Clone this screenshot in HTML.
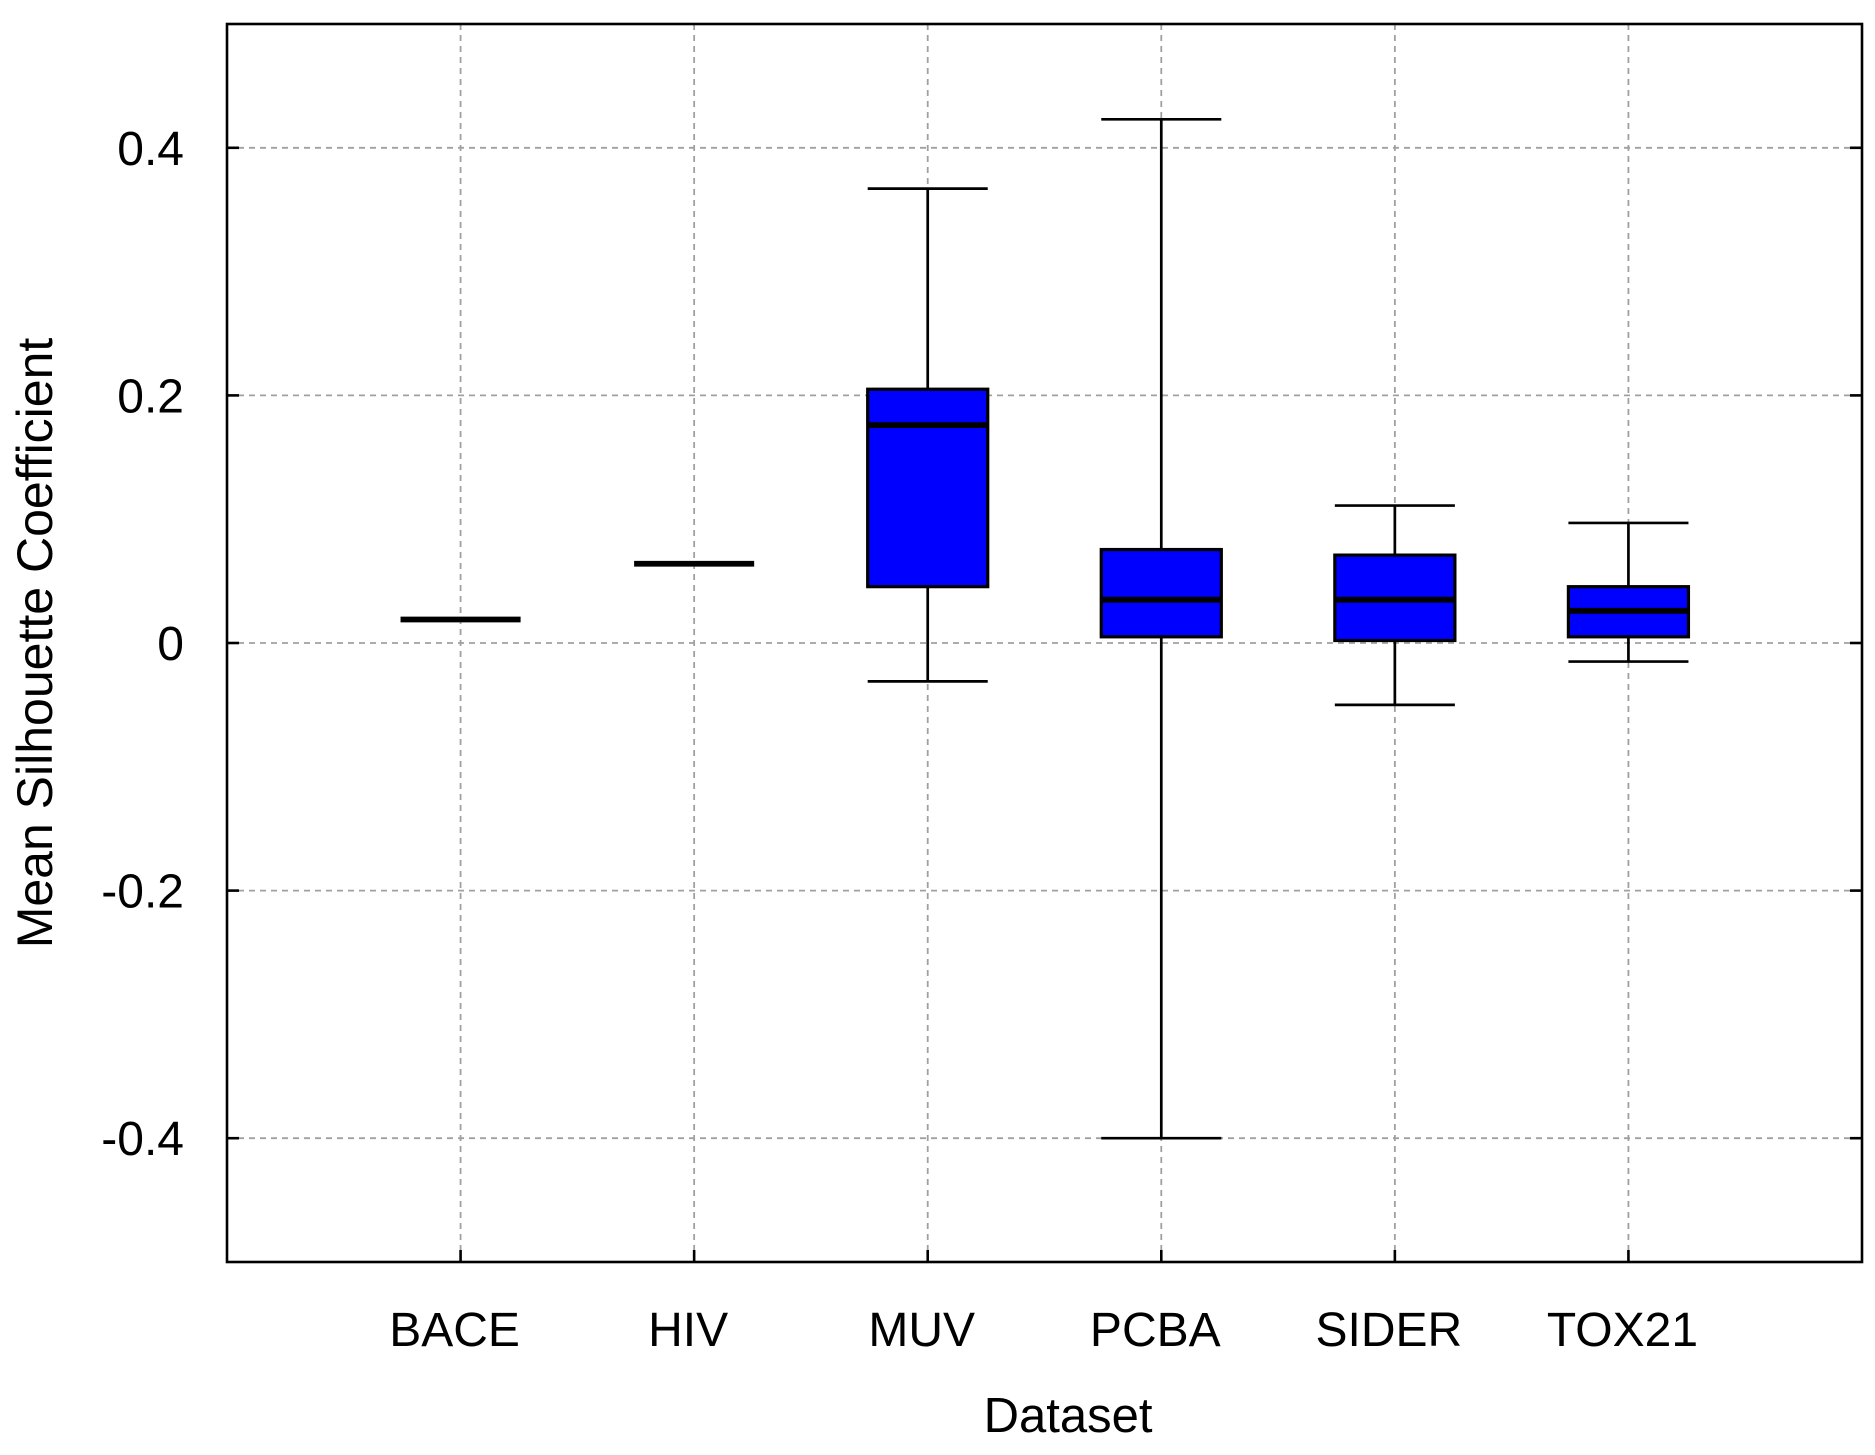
<!DOCTYPE html>
<html><head><meta charset="utf-8"><style>
html,body{margin:0;padding:0;background:#fff;}
svg{display:block;font-family:"Liberation Sans",sans-serif;}
</style></head><body>
<svg id="chart" width="1875" height="1455" viewBox="0 0 1875 1455">
<g id="grid"></g>
<g id="boxes"></g>
<g id="axes"></g>
<text x="1068" y="1432" font-size="49" text-anchor="middle" fill="#000">Dataset</text>
<text transform="translate(52,643) rotate(-90)" font-size="50" text-anchor="middle" fill="#000">Mean Silhouette Coefficient</text>
</svg>
<script>
const categories = ["BACE","HIV","MUV","PCBA","SIDER","TOX21"];
const whiskerHigh = [0.019, 0.064, 0.367, 0.423, 0.111, 0.097];
const q3 = [0.019, 0.064, 0.205, 0.0755, 0.071, 0.0455];
const medians = [0.019, 0.064, 0.176, 0.035, 0.035, 0.026];
const q1 = [0.019, 0.064, 0.0455, 0.005, 0.002, 0.005];
const whiskerLow = [0.019, 0.064, -0.031, -0.4, -0.05, -0.015];
const yTicks = [0.4, 0.2, 0, -0.2, -0.4];
const yTickLabels = ["0.4","0.2","0","-0.2","-0.4"];

const NS = "http://www.w3.org/2000/svg";
const L = 227, R = 1862, T = 24, B = 1262;
const xMin = 0, xMax = 7, yMin = -0.5, yMax = 0.5;
const xs = v => L + (v - xMin) / (xMax - xMin) * (R - L);
const ys = v => B - (v - yMin) / (yMax - yMin) * (B - T);
const halfW = 0.257;
function mk(tag, attrs, parent){const e=document.createElementNS(NS,tag);for(const k in attrs)e.setAttribute(k,attrs[k]);parent.appendChild(e);return e;}
const grid = document.getElementById('grid'), boxes = document.getElementById('boxes'), axes = document.getElementById('axes'), svg = document.getElementById('chart');

yTicks.forEach((t,i)=>{
  const y = ys(t);
  const g = mk('line',{x1:L,x2:R,y1:y,y2:y,stroke:'#a0a0a0','stroke-width':1.8,'stroke-dasharray':'6 5'},grid);
  
  
  const t1 = mk('line',{x1:L,x2:L+12,y1:y,y2:y,stroke:'#000','stroke-width':2.6},axes);
  
  
  const t2 = mk('line',{x1:R-12,x2:R,y1:y,y2:y,stroke:'#000','stroke-width':2.6},axes);
  
  
  const lb = mk('text',{x:184,y:y+17,'font-size':48,'text-anchor':'end',fill:'#000'},svg);
  lb.textContent = yTickLabels[i];
  
  
});
categories.forEach((c,i)=>{
  const x = xs(i+1);
  const g = mk('line',{x1:x,x2:x,y1:T,y2:B,stroke:'#a0a0a0','stroke-width':1.8,'stroke-dasharray':'6 5'},grid);
  
  
  const tk = mk('line',{x1:x,x2:x,y1:B-12,y2:B,stroke:'#000','stroke-width':2.6},axes);
  
  
  const lb = mk('text',{x:x-6,y:1346,'font-size':48,'text-anchor':'middle',fill:'#000'},svg);
  lb.textContent = c;
  
  

  const g2 = mk('g',{},boxes);
  
  
  const x0 = xs(i+1-halfW), x1 = xs(i+1+halfW);
  mk('line',{x1:x,x2:x,y1:ys(whiskerHigh[i]),y2:ys(q3[i]),stroke:'#000','stroke-width':2.7},g2);
  mk('line',{x1:x,x2:x,y1:ys(q1[i]),y2:ys(whiskerLow[i]),stroke:'#000','stroke-width':2.7},g2);
  if (whiskerHigh[i] !== q3[i]) mk('line',{x1:x0,x2:x1,y1:ys(whiskerHigh[i]),y2:ys(whiskerHigh[i]),stroke:'#000','stroke-width':2.7},g2);
  if (whiskerLow[i] !== q1[i]) mk('line',{x1:x0,x2:x1,y1:ys(whiskerLow[i]),y2:ys(whiskerLow[i]),stroke:'#000','stroke-width':2.7},g2);
  const h = ys(q1[i]) - ys(q3[i]);
  if (h > 0.5) mk('rect',{x:x0,y:ys(q3[i]),width:x1-x0,height:h,fill:'#0000ff',stroke:'#000','stroke-width':3.2},g2);
  mk('line',{x1:x0,x2:x1,y1:ys(medians[i]),y2:ys(medians[i]),stroke:'#000','stroke-width':5.8},g2);
});
const fr = mk('rect',{x:L,y:T,width:R-L,height:B-T,fill:'none',stroke:'#000','stroke-width':2.6},axes);


</script>
</body></html>
